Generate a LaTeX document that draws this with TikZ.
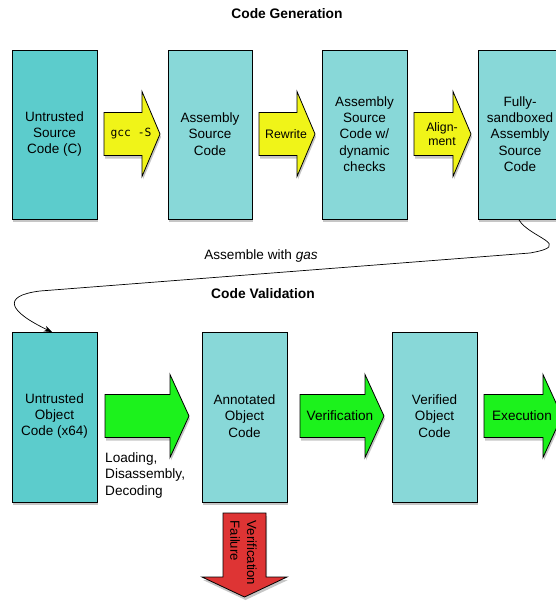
\documentclass[tikz,border=0pt]{standalone}
\usepackage{fontspec}
\setmainfont{Liberation Sans}
\setmonofont{DejaVu Sans Mono}
\usetikzlibrary{shadows,arrows.meta}
\definecolor{tealdark}{RGB}{92,204,204}
\definecolor{teallight}{RGB}{136,216,216}
\definecolor{arryellow}{RGB}{240,244,24}
\definecolor{arrgreen}{RGB}{28,242,28}
\definecolor{arrred}{RGB}{222,52,52}
\tikzset{
  shade/.style={drop shadow={shadow xshift=1pt,shadow yshift=-3pt,opacity=0.45}},
  box/.style={draw=black,line width=0.9pt,fill=teallight,shade},
  boxdark/.style={box,fill=tealdark},
  boxtext/.style={align=center,font=\fontsize{13.5}{16.2}\selectfont,inner sep=0pt},
  arr/.style={draw=black,line width=0.8pt,shade},
  arrtext/.style={align=center,inner sep=0pt},
  title/.style={font=\fontsize{13.8}{16}\selectfont\bfseries}
}
\newcommand{\hArrow}[7]{% style, x0, x1, x2, yc, half shaft, half head
  \path[#1] (#2,#5-#6) -- (#3,#5-#6) -- (#3,#5-#7) -- (#4,#5) -- (#3,#5+#7) -- (#3,#5+#6) -- (#2,#5+#6) -- cycle;}
\begin{document}
\begin{tikzpicture}[x=1pt,y=-1pt]
\useasboundingbox (0,0) rectangle (556,605);
% titles
\node[title] (tgen) at (287,14) {Code Generation};
\node[title] (tval) at (263,294) {Code Validation};
% top row boxes
\path[boxdark] (12,50) rectangle (97,219);
\node[boxtext] (b1) at (54.5,134) {Untrusted\\Source\\Code (C)};
\path[box] (168,50) rectangle (252,219);
\node[boxtext] (b2) at (210,134) {Assembly\\Source\\Code};
\path[box] (322,50) rectangle (407,219);
\node[boxtext] (b3) at (364.5,134) {Assembly\\Source\\Code w/\\dynamic\\checks};
\path[box] (478,50) rectangle (563,219);
\node[boxtext] (b4) at (520,134) {Fully-\\sandboxed\\Assembly\\Source\\Code};
% yellow arrows
\hArrow{arr,fill=arryellow}{104}{142}{160}{134}{21.5}{42.5}
\node[arrtext,font=\ttfamily\fontsize{11.3}{13}\selectfont] (a1) at (131,134) {gcc -S};
\hArrow{arr,fill=arryellow}{259}{297}{315}{134}{21.5}{42.5}
\node[arrtext,font=\fontsize{12.3}{14}\selectfont] (a2) at (286,134) {Rewrite};
\hArrow{arr,fill=arryellow}{414}{453}{471}{134}{21.5}{42.5}
\node[arrtext,font=\fontsize{12.3}{14}\selectfont] (a3) at (442,134) {Align-\\ment};
% bottom row boxes
\path[boxdark] (12,332) rectangle (97,502);
\node[boxtext] (b5) at (54.5,416) {Untrusted\\Object\\Code (x64)};
\path[box] (202,332) rectangle (287,502);
\node[boxtext] (b6) at (244.5,416) {Annotated\\Object\\Code};
\path[box] (392,332) rectangle (477,502);
\node[boxtext] (b7) at (434.5,416) {Verified\\Object\\Code};
% green arrows
\hArrow{arr,fill=arrgreen}{105}{170}{189}{416}{21.5}{41.5}
\node[anchor=north west,align=left,inner sep=0pt,font=\fontsize{13.6}{16.6}\selectfont] (a5) at (105,452) {Loading,\\Disassembly,\\Decoding};
\hArrow{arr,fill=arrgreen}{300}{365}{384}{416}{21.5}{41.5}
\node[arrtext,font=\fontsize{13.6}{15}\selectfont] (a6) at (340,416) {Verification};
\hArrow{arr,fill=arrgreen}{484}{543}{562}{416}{21.5}{41.5}
\node[arrtext,font=\fontsize{13.6}{15}\selectfont] (a7) at (522,416) {Execution};
% red arrow
\path[arr,fill=arrred] (223,513) -- (266,513) -- (266,577) -- (287,577) -- (244.5,597) -- (202,577) -- (223,577) -- cycle;
\node[arrtext,align=left,rotate=-90,font=\fontsize{13.2}{16.8}\selectfont] (a8) at (243.5,553) {Verification\\Failure};
% assemble connector
\coordinate (cstart) at (519,220);
\coordinate (cend) at (52,332);
\draw[line width=0.7pt,-{Stealth[length=8pt,width=6pt]}] (cstart) .. controls (530,238) and (575,245) .. (530,253)
  -- (40,291) .. controls (0,296) and (10,312) .. (cend);
\node[font=\fontsize{13.6}{16}\selectfont] (lgas) at (261,256) {Assemble with \textit{gas}};
\end{tikzpicture}
\end{document}
